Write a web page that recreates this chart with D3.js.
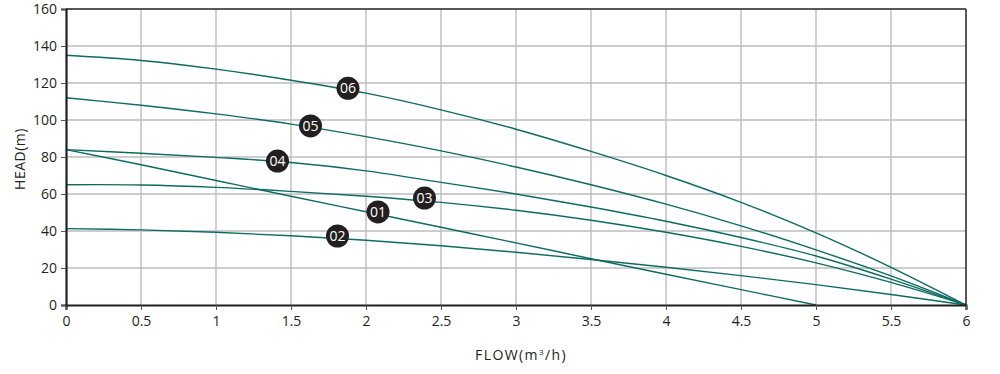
<!DOCTYPE html>
<html>
<head>
<meta charset="utf-8">
<script src="https://cdn.jsdelivr.net/npm/d3@7"></script>
<style>
  body { margin: 0; background: #fff; }
  .tickText { font-family: "Open Sans", "Noto Sans", sans-serif; font-size: 14px; fill: #231f20; }
  .titleText { font-family: "Open Sans", "Noto Sans", sans-serif; font-size: 14px; fill: #231f20; letter-spacing: 0.5px; }
</style>
</head>
<body>
<div id="chart"></div>
<script>
const flow = [0, 0.5, 1, 1.5, 2, 2.5, 3, 3.5, 4, 4.5, 5, 5.5, 6];
const head01 = [84, 75.8, 67.3, 58.8, 50.4, 42, 33.6, 25, 16.6, 8.3, 0];
const head02 = [41.3, 40.6, 39.3, 37.4, 35, 32, 28.5, 24.6, 20.4, 15.9, 11, 5.7, 0];
const head03 = [65, 64.9, 63.6, 61.4, 58.8, 55.5, 51.2, 45.8, 39.3, 31.7, 22.8, 12.2, 0];
const head04 = [84, 82, 79.8, 77, 72.5, 66.3, 60, 53, 45.3, 36.5, 26.5, 14, 0];
const head05 = [112, 108, 103.3, 97.8, 91, 83.3, 74.6, 65, 54.5, 42.8, 29.8, 15.7, 0];
const head06 = [135, 132.2, 127.5, 121.5, 114.5, 105.5, 95, 83, 70, 55.5, 39, 20.4, 0];

const seriesNames = ['01', '02', '03', '04', '05', '06'];
const labelFlow = [2.08, 1.81, 2.39, 1.41, 1.63, 1.88];
const labelHead = [50.3, 37.3, 57.8, 77.8, 96.8, 117.1];

const xTicks = [0, 0.5, 1, 1.5, 2, 2.5, 3, 3.5, 4, 4.5, 5, 5.5, 6];
const yTicks = [0, 20, 40, 60, 80, 100, 120, 140, 160];

const width = 1000, height = 374;
const margin = {top: 9, right: 34, bottom: 69, left: 66};
const innerW = width - margin.left - margin.right;
const innerH = height - margin.top - margin.bottom;

const svg = d3.select('#chart').append('svg')
    .attr('width', width)
    .attr('height', height);

const g = svg.append('g')
    .attr('transform', `translate(${margin.left},${margin.top})`);

const x = d3.scaleLinear().domain([0, 6]).range([0, innerW]);
const y = d3.scaleLinear().domain([0, 160]).range([innerH, 0]);

// grid
g.append('g').selectAll('line')
    .data(xTicks.slice(1, -1))
    .join('line')
    .attr('x1', d => x(d)).attr('x2', d => x(d))
    .attr('y1', 0).attr('y2', innerH)
    .attr('stroke', '#bdbdbd').attr('stroke-width', 1.4);

g.append('g').selectAll('line')
    .data(yTicks.slice(1, -1))
    .join('line')
    .attr('x1', 0).attr('x2', innerW)
    .attr('y1', d => y(d)).attr('y2', d => y(d))
    .attr('stroke', '#bdbdbd').attr('stroke-width', 1.4);

// curves
const allHeads = [head01, head02, head03, head04, head05, head06];
const line = d3.line()
    .x(d => x(d[0]))
    .y(d => y(d[1]))
    .curve(d3.curveCatmullRom.alpha(0.5));

allHeads.forEach(h => {
    g.append('path')
        .datum(h.map((v, i) => [flow[i], v]))
        .attr('d', line)
        .attr('fill', 'none')
        .attr('stroke', '#0d6b62')
        .attr('stroke-width', 1.4);
});

// frame
g.append('line').attr('x1', 0).attr('x2', innerW).attr('y1', 0).attr('y2', 0)
    .attr('stroke', '#231f20').attr('stroke-width', 1.5);
g.append('line').attr('x1', innerW).attr('x2', innerW).attr('y1', 0).attr('y2', innerH)
    .attr('stroke', '#231f20').attr('stroke-width', 1.5);

// axes
const xAxis = d3.axisBottom(x).tickValues(xTicks).tickSize(5).tickPadding(6).tickFormat(d => d);
const yAxis = d3.axisLeft(y).tickValues(yTicks).tickSize(5).tickPadding(4);

const gx = g.append('g').attr('transform', `translate(0,${innerH})`).call(xAxis);
const gy = g.append('g').call(yAxis);

[gx, gy].forEach(a => {
    a.select('.domain').attr('stroke', '#231f20').attr('stroke-width', 2.2);
    a.selectAll('.tick line').attr('stroke', '#555').attr('stroke-width', 1);
    a.selectAll('.tick text').attr('class', 'tickText').attr('fill', null);
});

// series labels
const labels = g.append('g').selectAll('g')
    .data(seriesNames)
    .join('g')
    .attr('transform', (d, i) => `translate(${x(labelFlow[i])},${y(labelHead[i])})`);

labels.append('circle').attr('r', 11.5).attr('fill', '#231f20');
labels.append('text')
    .attr('text-anchor', 'middle')
    .attr('dy', '0.36em')
    .attr('fill', '#fff')
    .style('font-family', '"Open Sans", "Noto Sans", sans-serif')
    .style('font-size', '14px')
    .text(d => d);

// axis titles
svg.append('text')
    .attr('class', 'titleText')
    .attr('x', margin.left + innerW / 2 + 5)
    .attr('y', 360)
    .attr('text-anchor', 'middle')
    .style('letter-spacing', '1.4px')
    .html('FLOW(m<tspan dy="-5" font-size="8">3</tspan><tspan dy="5">/h)</tspan>');

svg.append('text')
    .attr('class', 'titleText')
    .attr('transform', `translate(25,${margin.top + innerH / 2 + 2}) rotate(-90)`)
    .attr('text-anchor', 'middle')
    .text('HEAD(m)');
</script>
</body>
</html>
